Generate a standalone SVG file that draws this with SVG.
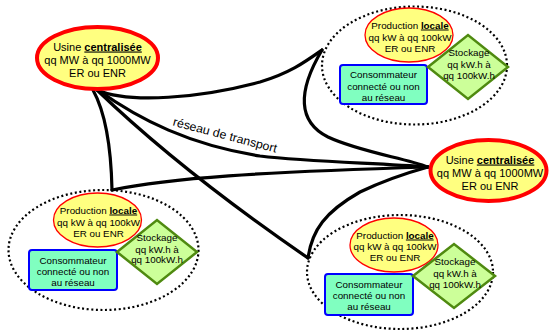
<svg xmlns="http://www.w3.org/2000/svg" width="549" height="330" viewBox="0 0 549 330">
<style>
text{font-family:"Liberation Sans",Arial,sans-serif;text-anchor:middle;fill:#000}
.usine{fill:#FFFF80;stroke:#FF0000;stroke-width:4}
.usine-t{font-size:11px}
.prod{fill:#FFFF80;stroke:#FF0000;stroke-width:1.3}
.cons{fill:#80FFC0;stroke:#0000FF;stroke-width:2}
.stock{fill:#CCFF99;stroke:#4F8A10;stroke-width:2.5;stroke-linejoin:miter}
.small{font-size:9.8px}
.zone{fill:none;stroke:#000;stroke-width:2.2;stroke-dasharray:2 2.6}
.b{font-weight:bold;text-decoration:underline}
.link{fill:none;stroke:#000;stroke-width:3.2;stroke-linecap:round;stroke-linejoin:round}
</style>
<rect width="549" height="330" fill="#fff"/>

<g id="connectors">
  <path class="link" d="M97,90 C130,104 200,98 260,82 C290,73 305,62 322,50"/>
  <path class="link" d="M322,50 C297,92 298,122 328,137 C360,152 405,158 428,167"/>
  <path class="link" d="M98,90 C140,120 190,145 260,156 C310,162 380,163 428,167"/>
  <path class="link" d="M112,190 C170,178 260,172 428,167"/>
  <path class="link" d="M93,90 C104,110 111,140 112,190"/>
  <path class="link" d="M97,90 Q180,170 308,258"/>
  <path class="link" d="M308,258 C312,230 325,212 360,192 C385,180 410,172 428,167"/>
  <text x="0" y="0" font-size="12" transform="translate(224,139) rotate(14.8)" textLength="107" lengthAdjust="spacingAndGlyphs">réseau de transport</text>
</g>

<g id="usine-gauche">
  <ellipse class="usine" cx="97.5" cy="58" rx="60.5" ry="31"/>
  <text class="usine-t" x="97.5" y="50.5">Usine <tspan class="b">centralisée</tspan></text>
  <text class="usine-t" x="97.5" y="64">qq MW à qq 1000MW</text>
  <text class="usine-t" x="97.5" y="77">ER ou ENR</text>
</g>

<g id="usine-droite">
  <ellipse class="usine" cx="488.5" cy="170.5" rx="58" ry="30.5"/>
  <text class="usine-t" x="490" y="163.5">Usine <tspan class="b">centralisée</tspan></text>
  <text class="usine-t" x="490" y="177">qq MW à qq 1000MW</text>
  <text class="usine-t" x="490" y="190">ER ou ENR</text>
</g>

<g id="zone-haut-droite">
  <ellipse class="zone" cx="414.5" cy="65.5" rx="92.5" ry="59"/>
  <g id="prod-hd">
    <ellipse class="prod" cx="409" cy="35" rx="44" ry="27"/>
    <text class="small" x="410" y="28.5">Production <tspan class="b">locale</tspan></text>
    <text class="small" x="410" y="40.5">qq kW à qq 100kW</text>
    <text class="small" x="410" y="51.5">ER ou ENR</text>
  </g>
  <g id="cons-hd">
    <rect class="cons" x="340" y="65" width="87" height="39" rx="3"/>
    <text class="small" x="383.5" y="78">Consommateur</text>
    <text class="small" x="383.5" y="89.5">connecté ou non</text>
    <text class="small" x="383.5" y="101">au réseau</text>
  </g>
  <g id="stock-hd">
    <polygon class="stock" points="428,67 468,35 508,67 468,99"/>
    <text class="small" x="469" y="55.5">Stockage</text>
    <text class="small" x="469" y="67.5">qq kW.h à</text>
    <text class="small" x="469" y="78.5">qq 100kW.h</text>
  </g>
</g>

<g id="zone-bas-gauche">
  <ellipse class="zone" cx="103.5" cy="250" rx="95" ry="60"/>
  <g id="prod-bg">
    <ellipse class="prod" cx="97.5" cy="220" rx="44" ry="27"/>
    <text class="small" x="98.5" y="213.5">Production <tspan class="b">locale</tspan></text>
    <text class="small" x="98.5" y="225.5">qq kW à qq 100kW</text>
    <text class="small" x="98.5" y="236.5">ER ou ENR</text>
  </g>
  <g id="cons-bg">
    <rect class="cons" x="29" y="250" width="88" height="40" rx="3"/>
    <text class="small" x="73" y="263.5">Consommateur</text>
    <text class="small" x="73" y="274.5">connecté ou non</text>
    <text class="small" x="73" y="286">au réseau</text>
  </g>
  <g id="stock-bg">
    <polygon class="stock" points="117,252 157,220 197,252 157,284"/>
    <text class="small" x="157" y="240.5">Stockage</text>
    <text class="small" x="157" y="252.5">qq kW.h à</text>
    <text class="small" x="157" y="263">qq 100kW.h</text>
  </g>
</g>

<g id="zone-bas-droite">
  <ellipse class="zone" cx="400" cy="272" rx="93" ry="57"/>
  <g id="prod-bd">
    <ellipse class="prod" cx="394" cy="245" rx="44" ry="27"/>
    <text class="small" x="395" y="238.5">Production <tspan class="b">locale</tspan></text>
    <text class="small" x="395" y="249.5">qq kW à qq 100kW</text>
    <text class="small" x="395" y="260.5">ER ou ENR</text>
  </g>
  <g id="cons-bd">
    <rect class="cons" x="325" y="274" width="88" height="41" rx="3"/>
    <text class="small" x="369" y="287.5">Consommateur</text>
    <text class="small" x="369" y="298.5">connecté ou non</text>
    <text class="small" x="369" y="310">au réseau</text>
  </g>
  <g id="stock-bd">
    <polygon class="stock" points="413,276 454,244 495,276 454,308"/>
    <text class="small" x="455" y="265">Stockage</text>
    <text class="small" x="455" y="277">qq kW.h à</text>
    <text class="small" x="455" y="287.5">qq 100kW.h</text>
  </g>
</g>
</svg>
